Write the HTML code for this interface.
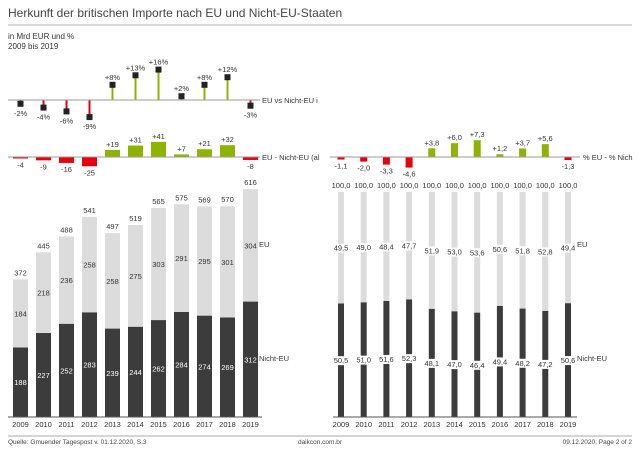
<!DOCTYPE html>
<html><head><meta charset="utf-8"><style>
body{margin:0;background:#fff;font-family:"Liberation Sans",sans-serif}
svg text{font-family:"Liberation Sans",sans-serif}
</style></head><body>
<svg id="c" width="640" height="452" xmlns="http://www.w3.org/2000/svg">
<text x="8" y="17" font-size="12" fill="#444">Herkunft der britischen Importe nach EU und Nicht-EU-Staaten</text>
<line x1="8" y1="25" x2="632" y2="25" stroke="#ccc" stroke-width="1.5"/>
<text x="8" y="39" font-size="8" fill="#333">in Mrd EUR und %</text>
<text x="8" y="49" font-size="8" fill="#333">2009 bis 2019</text>
<line x1="8" y1="436" x2="632" y2="436" stroke="#aaa"/>
<text x="8" y="444" font-size="6.5" fill="#444">Quelle: Gmuender Tagespost v. 01.12.2020, S.3</text>
<text x="320" y="444" font-size="6.5" fill="#444" text-anchor="middle">daikcon.com.br</text>
<text x="632" y="444" font-size="6.5" fill="#444" text-anchor="end">09.12.2020, Page 2 of 2</text>
</svg>
<script>
const years=["2009","2010","2011","2012","2013","2014","2015","2016","2017","2018","2019"];
const nichtEU=[188,227,252,283,239,244,262,284,274,269,312];
const eu=[184,218,236,258,258,275,303,291,295,301,304];
const totals=[372,445,488,541,497,519,565,575,569,570,616];
const pctDiff=[-2,-4,-6,-9,8,13,16,2,8,12,-3];
const absDiff=[-4,-9,-16,-25,19,31,41,7,21,32,-8];
const euPct=[49.5,49.0,48.4,47.7,51.9,53.0,53.6,50.6,51.8,52.8,49.4];
const nichtPct=[50.5,51.0,51.6,52.3,48.1,47.0,46.4,49.4,48.2,47.2,50.6];
const ptDiff=[-1.1,-2.0,-3.3,-4.6,3.8,6.0,7.3,1.2,3.7,5.6,-1.3];
const svg=document.getElementById('c');const NS='http://www.w3.org/2000/svg';
function mk(t,a,txt){const e=document.createElementNS(NS,t);for(const k in a)e.setAttribute(k,a[k]);if(txt!==undefined)e.textContent=txt;svg.appendChild(e);return e;}
const fmt=v=>v.toFixed(1).replace('.',',');
const sg=v=>(v>0?'+':'')+v;
const lx=i=>20.5+23*i, rx=i=>341+22.7*i;
const G='#8cb400',R='#e8000b';
function halo(x,y){const r=mk('rect',{x:x-9,y:y-7,width:18,height:9,fill:'#fff'});

}
const base=417,ys=v=>v*0.370,ps=2.25;
years.forEach((y,i)=>{
 const x=lx(i),hn=ys(nichtEU[i]),he=ys(eu[i]);
 let e=mk('rect',{x:x-7.5,y:base-hn,width:15,height:hn,fill:'#3c3c3c'});
 
 
 e=mk('rect',{x:x-7.5,y:base-hn-he,width:15,height:he,fill:'#dcdcdc'});
 
 
 e=mk('text',{x:x,y:base-hn/2+3,'font-size':7.5,fill:'#fff','text-anchor':'middle'},nichtEU[i]);
 
 
 e=mk('text',{x:x,y:base-hn-he/2+3,'font-size':7.5,fill:'#333','text-anchor':'middle'},eu[i]);
 
 
 e=mk('text',{x:x,y:base-ys(totals[i])-4,'font-size':7.5,fill:'#333','text-anchor':'middle'},totals[i]);
 
 
 e=mk('text',{x:x,y:427,'font-size':7.5,fill:'#333','text-anchor':'middle'},y);
 
 
 const xr=rx(i),pn=nichtPct[i]*ps,pe=euPct[i]*ps;
 e=mk('rect',{x:xr-3,y:base-pn,width:6,height:pn,fill:'#3c3c3c'});
 
 
 e=mk('rect',{x:xr-3,y:base-pn-pe,width:6,height:pe,fill:'#dcdcdc'});
 
 
 halo(xr,base-pn/2+3);
 e=mk('text',{x:xr,y:base-pn/2+3,'font-size':7.5,fill:'#333','text-anchor':'middle'},fmt(nichtPct[i]));
 
 
 halo(xr,base-pn-pe/2+3);
 e=mk('text',{x:xr,y:base-pn-pe/2+3,'font-size':7.5,fill:'#333','text-anchor':'middle'},fmt(euPct[i]));
 
 
 e=mk('text',{x:xr,y:base-pn-pe-4,'font-size':7.5,fill:'#333','text-anchor':'middle'},fmt(nichtPct[i]+euPct[i]));
 
 
 e=mk('text',{x:xr,y:427,'font-size':7.5,fill:'#333','text-anchor':'middle'},y);
 
 
 const b1=100,v1=pctDiff[i],y1=b1-v1*1.9,c1=v1>=0?G:R;
 e=mk('line',{x1:x,y1:b1,x2:x,y2:y1,stroke:c1,'stroke-width':2});
 
 
 e=mk('rect',{x:x-3,y:y1-3,width:6,height:6,fill:'#222'});
 
 
 e=mk('text',{x:x,y:v1>=0?y1-5:y1+12,'font-size':7.5,fill:'#333','text-anchor':'middle'},sg(v1)+'%');
 
 
 const b2=157,v2=absDiff[i],h2=Math.abs(v2)*0.37;
 e=mk('rect',{x:x-7.5,y:v2>=0?b2-h2:b2,width:15,height:h2,fill:v2>=0?G:R});
 
 
 e=mk('text',{x:x,y:v2>=0?b2-h2-3:b2+h2+9,'font-size':7.5,fill:'#333','text-anchor':'middle'},sg(v2));
 
 
 const v3=ptDiff[i],h3=Math.abs(v3)*2.3;
 e=mk('rect',{x:xr-3.5,y:v3>=0?b2-h3:b2,width:7,height:h3,fill:v3>=0?G:R});
 
 
 e=mk('text',{x:xr,y:v3>=0?b2-h3-3:b2+h3+9,'font-size':7.5,fill:'#333','text-anchor':'middle'},(v3>0?'+':'')+fmt(v3));
 
 
});
let e;
e=mk('line',{x1:8,y1:417,x2:262,y2:417,stroke:'#555'});
e=mk('line',{x1:333,y1:417,x2:577,y2:417,stroke:'#555'});
e=mk('line',{x1:8,y1:100,x2:260,y2:100,stroke:'#999'});
e=mk('line',{x1:8,y1:157,x2:260,y2:157,stroke:'#999'});
e=mk('line',{x1:330,y1:157,x2:580,y2:157,stroke:'#999'});
const side=[[262,103,'EU vs Nicht-EU i','legend-pct-diff'],[262,160,'EU - Nicht-EU (al','legend-abs-diff'],[583,160,'% EU - % Nich','legend-pt-diff'],[259,247,'EU','legend-eu'],[259,361,'Nicht-EU','legend-nicht-eu'],[577,247,'EU','legend-pct-eu'],[577,361,'Nicht-EU','legend-pct-nicht-eu']];
side.forEach(s=>{const t=mk('text',{x:s[0],y:s[1],'font-size':7.5,fill:'#333'},s[2]);

});
</script>
</body></html>
